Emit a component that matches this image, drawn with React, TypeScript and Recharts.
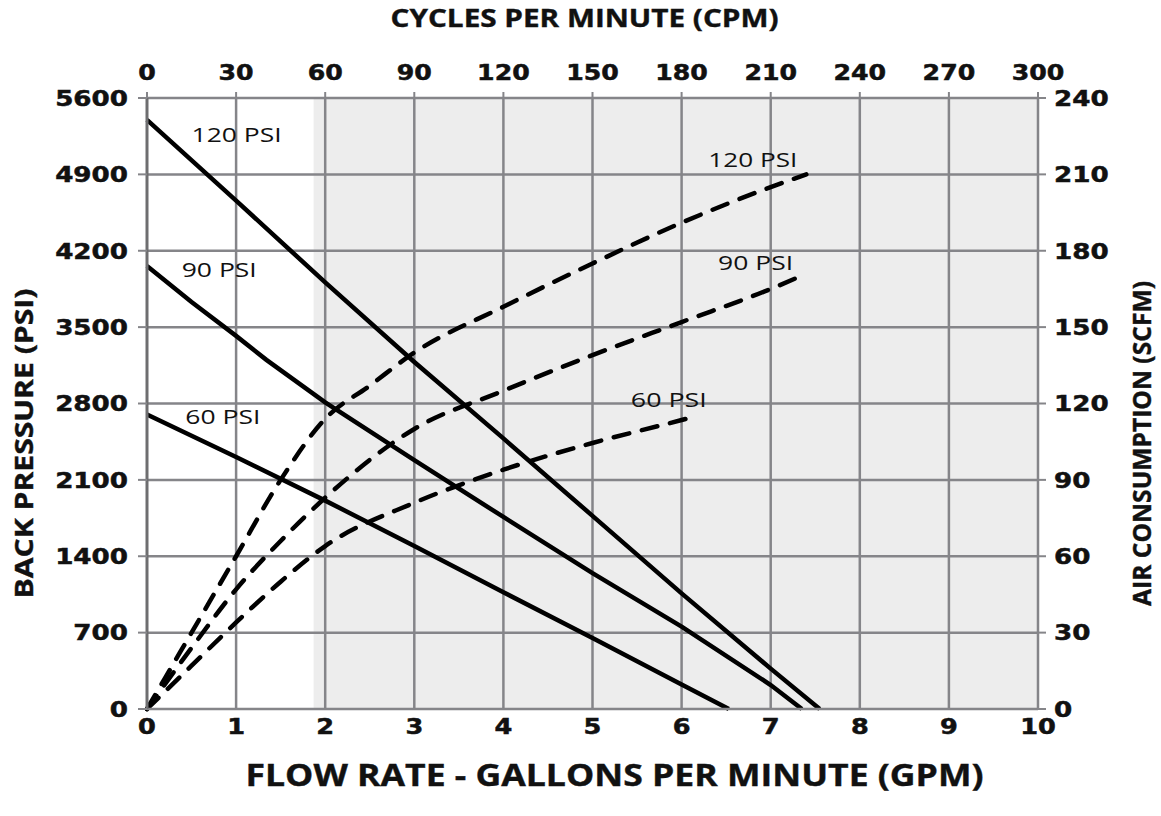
import React from 'react'
import {
  ComposedChart,
  Line,
  ReferenceArea,
  ReferenceDot,
  ReferenceLine,
  XAxis,
  YAxis,
} from 'recharts'

// back pressure (psi) vs flow (gpm) – solid curves
const flow120 = [0, 1, 2, 3, 4, 5, 6, 7, 7.55]
const pressure120 = [5400, 4660, 3910, 3180, 2480, 1770, 1060, 370, 0]
const flow90 = [0, 0.5, 1, 1.34, 2, 3, 4, 5, 6, 7, 7.35]
const pressure90 = [4060, 3730, 3420, 3200, 2810, 2280, 1760, 1245, 755, 220, 0]
const flow60 = [0, 1, 2, 3, 4, 5, 6, 6.53]
const pressure60 = [2700, 2310, 1910, 1495, 1070, 650, 225, 0]

// air consumption (scfm) vs flow (gpm) – dashed curves
const airFlow120 = [0, 0.5, 1, 1.5, 2, 2.5, 3, 4, 5, 6, 7, 7.4]
const air120 = [0, 30, 60, 90, 114, 127, 140, 158, 175, 191, 205, 210]
const airFlow90 = [0, 0.5, 1, 1.5, 2, 3, 4, 5, 6, 7, 7.4]
const air90 = [0, 24, 47, 66, 83, 110, 125, 139, 152, 165, 171]
const airFlow60 = [0, 0.5, 1, 1.5, 2, 3, 4, 5, 6, 6.16]
const air60 = [0, 17, 34, 50, 64, 81, 94, 104.5, 113.5, 115]

const gpmTicks = [0, 1, 2, 3, 4, 5, 6, 7, 8, 9, 10]
const cpmTicks = [0, 30, 60, 90, 120, 150, 180, 210, 240, 270, 300]
const psiTicks = [0, 700, 1400, 2100, 2800, 3500, 4200, 4900, 5600]
const scfmTicks = [0, 30, 60, 90, 120, 150, 180, 210, 240]

const shadeStart = 1.87

// curve labels: [text, flow, psi, width]
const curveLabels: [string, number, number, number][] = [
  ['120 PSI', 0.5, 5200, 90],
  ['90 PSI', 0.39, 3962, 75],
  ['60 PSI', 0.43, 2612, 75],
  ['120 PSI', 6.3, 4970, 89],
  ['90 PSI', 6.41, 4024, 75],
  ['60 PSI', 5.43, 2765, 76],
]

const zip = (xs: number[], ys: number[]) => xs.map((x, i) => ({ x, y: ys[i] }))

const W = 1161
const H = 816
const GRID = '#858589'
const TICK_FONT = "'DejaVu Sans', Verdana, sans-serif"
const TITLE_FONT = "'Open Sans', sans-serif"

const makeTick =
  (anchor: 'start' | 'middle' | 'end', dy: string, fontSize: number, stretch: number) =>
  (props: any) => {
    const { x, y, payload } = props
    return (
      <g transform={`translate(${x},${y})`}>
        <text
          transform={`scale(${stretch},1)`}
          textAnchor={anchor}
          dy={dy}
          fontFamily={TICK_FONT}
          fontWeight={700}
          fontSize={fontSize}
          fill="#111"
          stroke="#111"
          strokeWidth={0.5}
        >
          {payload.value}
        </text>
      </g>
    )
  }

const title = (text: string, x: number, y: number, size: number, length: number, rotate = false) => (
  <text
    x={x}
    y={y}
    textAnchor="middle"
    fontFamily={TITLE_FONT}
    fontWeight={700}
    fontSize={size}
    fill="#111"
    stroke="#111"
    strokeWidth={0.4}
    textLength={length}
    lengthAdjust="spacingAndGlyphs"
    transform={rotate ? `rotate(-90 ${x} ${y})` : undefined}
  >
    {text}
  </text>
)

export default function App() {
  const solid = [zip(flow120, pressure120), zip(flow90, pressure90), zip(flow60, pressure60)]
  const dashed = [zip(airFlow120, air120), zip(airFlow90, air90), zip(airFlow60, air60)]
  // the cpm scale has no series of its own, so it reads the chart-level rows
  const cpmRows = cpmTicks.map((cpm) => ({ cpm }))

  return (
    <div style={{ position: 'absolute', left: 0, top: 0, width: W, height: H, background: '#fff' }}>
      <ComposedChart
        width={W}
        height={H}
        data={cpmRows}
        margin={{ top: 58, right: 43, bottom: 67, left: 67 }}
      >
        <XAxis
          xAxisId="bottom"
          dataKey="x"
          type="number"
          domain={[0, 10]}
          ticks={gpmTicks}
          height={40}
          tickLine={false}
          tickSize={2}
          tickMargin={8}
          axisLine={{ stroke: GRID, strokeWidth: 2.5 }}
          tick={makeTick('middle', '0.71em', 21, 1.22)}
          label={{
            content: ({ viewBox }: any) =>
              title('FLOW RATE - GALLONS PER MINUTE (GPM)', viewBox.x + viewBox.width / 2 + 22, viewBox.y + 77, 31, 738),
          }}
        />
        <XAxis
          xAxisId="top"
          orientation="top"
          dataKey="cpm"
          type="number"
          domain={[0, 300]}
          allowDataOverflow
          ticks={cpmTicks}
          interval={0}
          height={40}
          tickSize={6}
          tickMargin={12}
          tickLine={{ stroke: GRID, strokeWidth: 2 }}
          axisLine={{ stroke: GRID, strokeWidth: 2.5 }}
          tick={makeTick('middle', '0', 21, 1.2)}
          label={{
            content: ({ viewBox }: any) =>
              title('CYCLES PER MINUTE (CPM)', viewBox.x + viewBox.width / 2 - 8, 27, 25, 388),
          }}
        />
        <YAxis
          yAxisId="left"
          type="number"
          domain={[0, 5600]}
          ticks={psiTicks}
          width={80}
          tickSize={9}
          tickMargin={10}
          tickLine={{ stroke: GRID, strokeWidth: 2 }}
          axisLine={{ stroke: '#6e6e70', strokeWidth: 3 }}
          tick={makeTick('end', '0.355em', 22, 1.19)}
          label={{
            content: ({ viewBox }: any) =>
              title('BACK PRESSURE  (PSI)', 33, viewBox.y + viewBox.height / 2 + 40, 25, 310, true),
          }}
        />
        <YAxis
          yAxisId="right"
          orientation="right"
          type="number"
          domain={[0, 240]}
          ticks={scfmTicks}
          width={80}
          tickSize={8}
          tickMargin={8}
          tickLine={{ stroke: GRID, strokeWidth: 2 }}
          axisLine={{ stroke: GRID, strokeWidth: 2.5 }}
          tick={makeTick('start', '0.355em', 22, 1.19)}
          label={{
            content: ({ viewBox }: any) =>
              title('AIR CONSUMPTION  (SCFM)', viewBox.x + 113, viewBox.y + viewBox.height / 2 + 40, 25, 325, true),
          }}
        />

        <ReferenceArea
          xAxisId="bottom"
          yAxisId="left"
          x1={shadeStart}
          x2={10}
          y1={0}
          y2={5600}
          fill="#ededed"
          fillOpacity={1}
          stroke="none"
        />
        {gpmTicks.slice(1, -1).map((v) => (
          <ReferenceLine key={'gx' + v} xAxisId="bottom" yAxisId="left" x={v} stroke={GRID} strokeWidth={2.5} />
        ))}
        {psiTicks.slice(1, -1).map((v) => (
          <ReferenceLine key={'gy' + v} xAxisId="bottom" yAxisId="left" y={v} stroke={GRID} strokeWidth={2.5} />
        ))}
        <ReferenceLine
          xAxisId="bottom"
          yAxisId="left"
          segment={[{ x: 0, y: 0 }, { x: shadeStart, y: 0 }]}
          stroke="#333"
          strokeWidth={1.5}
        />
        <ReferenceLine
          xAxisId="bottom"
          yAxisId="left"
          segment={[{ x: 0, y: 5600 }, { x: shadeStart, y: 5600 }]}
          stroke="#555"
          strokeWidth={1.5}
        />

        {solid.map((d, i) => (
          <Line
            key={'s' + i}
            data={d}
            dataKey="y"
            xAxisId="bottom"
            yAxisId="left"
            type="linear"
            stroke="#000"
            strokeWidth={4.5}
            dot={false}
            activeDot={false}
            isAnimationActive={false}
          />
        ))}
        {dashed.map((d, i) => (
          <Line
            key={'d' + i}
            data={d}
            dataKey="y"
            xAxisId="bottom"
            yAxisId="right"
            type="monotone"
            stroke="#000"
            strokeWidth={4.5}
            strokeDasharray="16 13"
            strokeLinecap="round"
            dot={false}
            activeDot={false}
            isAnimationActive={false}
          />
        ))}

        {curveLabels.map(([text, fx, fy, len], i) => (
          <ReferenceDot
            key={'l' + i}
            xAxisId="bottom"
            yAxisId="left"
            x={fx}
            y={fy}
            r={0}
            fillOpacity={0}
            stroke="none"
            ifOverflow="visible"
            label={{
              content: ({ viewBox }: any) => (
                <text
                  x={viewBox.x}
                  y={viewBox.y}
                  fontFamily={TITLE_FONT}
                  fontSize={20}
                  fill="#111"
                  textLength={len}
                  lengthAdjust="spacingAndGlyphs"
                >
                  {text}
                </text>
              ),
            }}
          />
        ))}
      </ComposedChart>
    </div>
  )
}
